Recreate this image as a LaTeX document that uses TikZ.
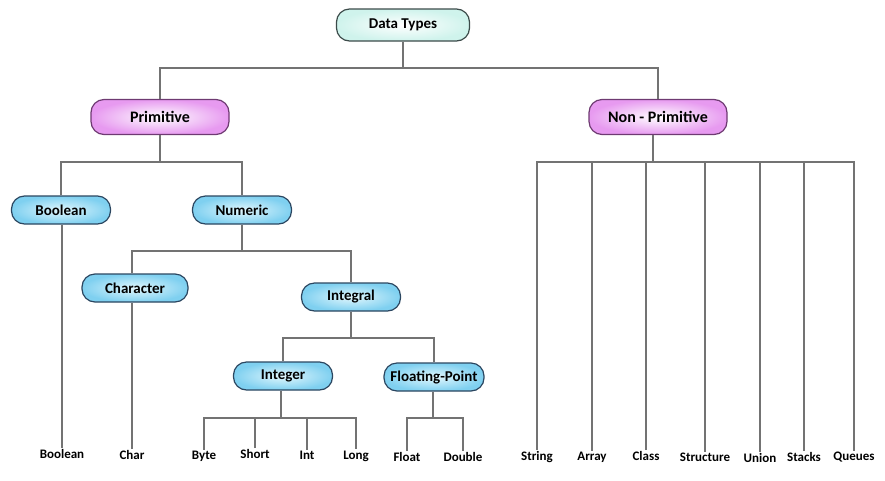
\documentclass[tikz,border=0pt]{standalone}
\usepackage{fontspec}
\setmainfont{Carlito}
\definecolor{linegray}{HTML}{737373}
\definecolor{navyb}{HTML}{2B4660}
\definecolor{blueout}{HTML}{7FD0F0}
\definecolor{bluein}{HTML}{E2F7FD}
\definecolor{pinkout}{HTML}{E79AF0}
\definecolor{pinkb}{HTML}{6E3A72}
\definecolor{tealout}{HTML}{CFF3EC}
\definecolor{tealb}{HTML}{3C4B4A}
\begin{document}
\begin{tikzpicture}[x=1pt,y=-1pt,
  conn/.style={draw=linegray, line width=2.6pt},
  basebox/.style={rounded corners=13pt, line width=1.2pt, inner sep=2pt,
    font=\bfseries\fontsize{15}{18}\selectfont, text=black},
  topbox/.style={basebox, draw=tealb, inner color=white, outer color=tealout,
    minimum width=133pt, minimum height=32pt},
  pinkbox/.style={basebox, draw=pinkb, inner color=white, outer color=pinkout,
    minimum width=138pt, minimum height=35pt, font=\bfseries\fontsize{16}{19}\selectfont},
  bluebox/.style={basebox, draw=navyb, inner color=bluein, outer color=blueout,
    minimum width=99pt, minimum height=28pt},
  leaf/.style={font=\bfseries\fontsize{13}{15}\selectfont, inner sep=1pt, text=black}
]
\useasboundingbox (0,0) rectangle (885,480);

% nodes
\node[topbox]  (dt)   at (403,25) {Data Types};
\node[pinkbox] (prim) at (160,117) {Primitive};
\node[pinkbox] (nonp) at (658,117) {Non - Primitive};
\node[bluebox] (bool) at (61,210) {Boolean};
\node[bluebox] (num)  at (242,210) {Numeric};
\node[bluebox, minimum width=106pt] (chr) at (135,288) {Character};
\node[bluebox] (intg) at (351,297) {Integral};
\node[bluebox] (inte) at (283,376) {Integer};
\node[bluebox, minimum width=100pt, inner sep=1pt] (flp) at (434,377) {Floating-Point};

% leaves
\node[leaf] (lbool) at (62,454) {Boolean};
\node[leaf] (lchar) at (132,455) {Char};
\node[leaf] (lbyte) at (204,456) {Byte};
\node[leaf] (lshort) at (255,454) {Short};
\node[leaf] (lint) at (307,455) {Int};
\node[leaf] (llong) at (356,456) {Long};
\node[leaf] (lfloat) at (407,457) {Float};
\node[leaf] (ldouble) at (463,457) {Double};
\node[leaf] (lstring) at (537,457) {String};
\node[leaf] (larray) at (592,457) {Array};
\node[leaf] (lclass) at (646,456) {Class};
\node[leaf] (lstruct) at (705,457) {Structure};
\node[leaf] (lunion) at (760,458) {Union};
\node[leaf] (lstacks) at (804,457) {Stacks};
\node[leaf] (lqueues) at (854,457) {Queues};

% bar coordinates
\coordinate (b0) at (403,68);
\coordinate (b1) at (160,162);
\coordinate (b2) at (653,162);
\coordinate (b3) at (242,251);
\coordinate (b4) at (351,338);
\coordinate (b5) at (281,418);
\coordinate (b6) at (433,418);

% connectors
\draw[conn] (dt.south) -- (b0);
\draw[conn] (prim.north) |- (b0) -| (nonp.north);

\draw[conn] (prim.south) -- (b1);
\draw[conn] (bool.north) |- (b1) -| (num.north);
\draw[conn] (lbool.north) -- (lbool.north |- bool.south);

\draw[conn] (num.south) -- (b3);
\draw[conn] (lchar.north |- chr.north) |- (b3) -| (intg.north);
\draw[conn] (lchar.north) -- (lchar.north |- chr.south);

\draw[conn] (intg.south) -- (b4);
\draw[conn] (inte.north) |- (b4) -| (flp.north);

\draw[conn] (inte.south -| b5) -- (b5);
\draw[conn] (lbyte.north) |- (b5) -| (llong.north);
\draw[conn] (lshort.north) |- (b5);
\draw[conn] (lint.north) |- (b5);

\draw[conn] (flp.south -| b6) -- (b6);
\draw[conn] (lfloat.north) |- (b6) -| (ldouble.north);

\draw[conn] (nonp.south -| b2) -- (b2);
\draw[conn] (lstring.north) |- (b2) -| (lqueues.north);
\draw[conn] (larray.north) |- (b2);
\draw[conn] (lclass.north) |- (b2);
\draw[conn] (lstruct.north) |- (b2);
\draw[conn] (lunion.north) |- (b2);
\draw[conn] (lstacks.north) |- (b2);
\end{tikzpicture}
\end{document}
